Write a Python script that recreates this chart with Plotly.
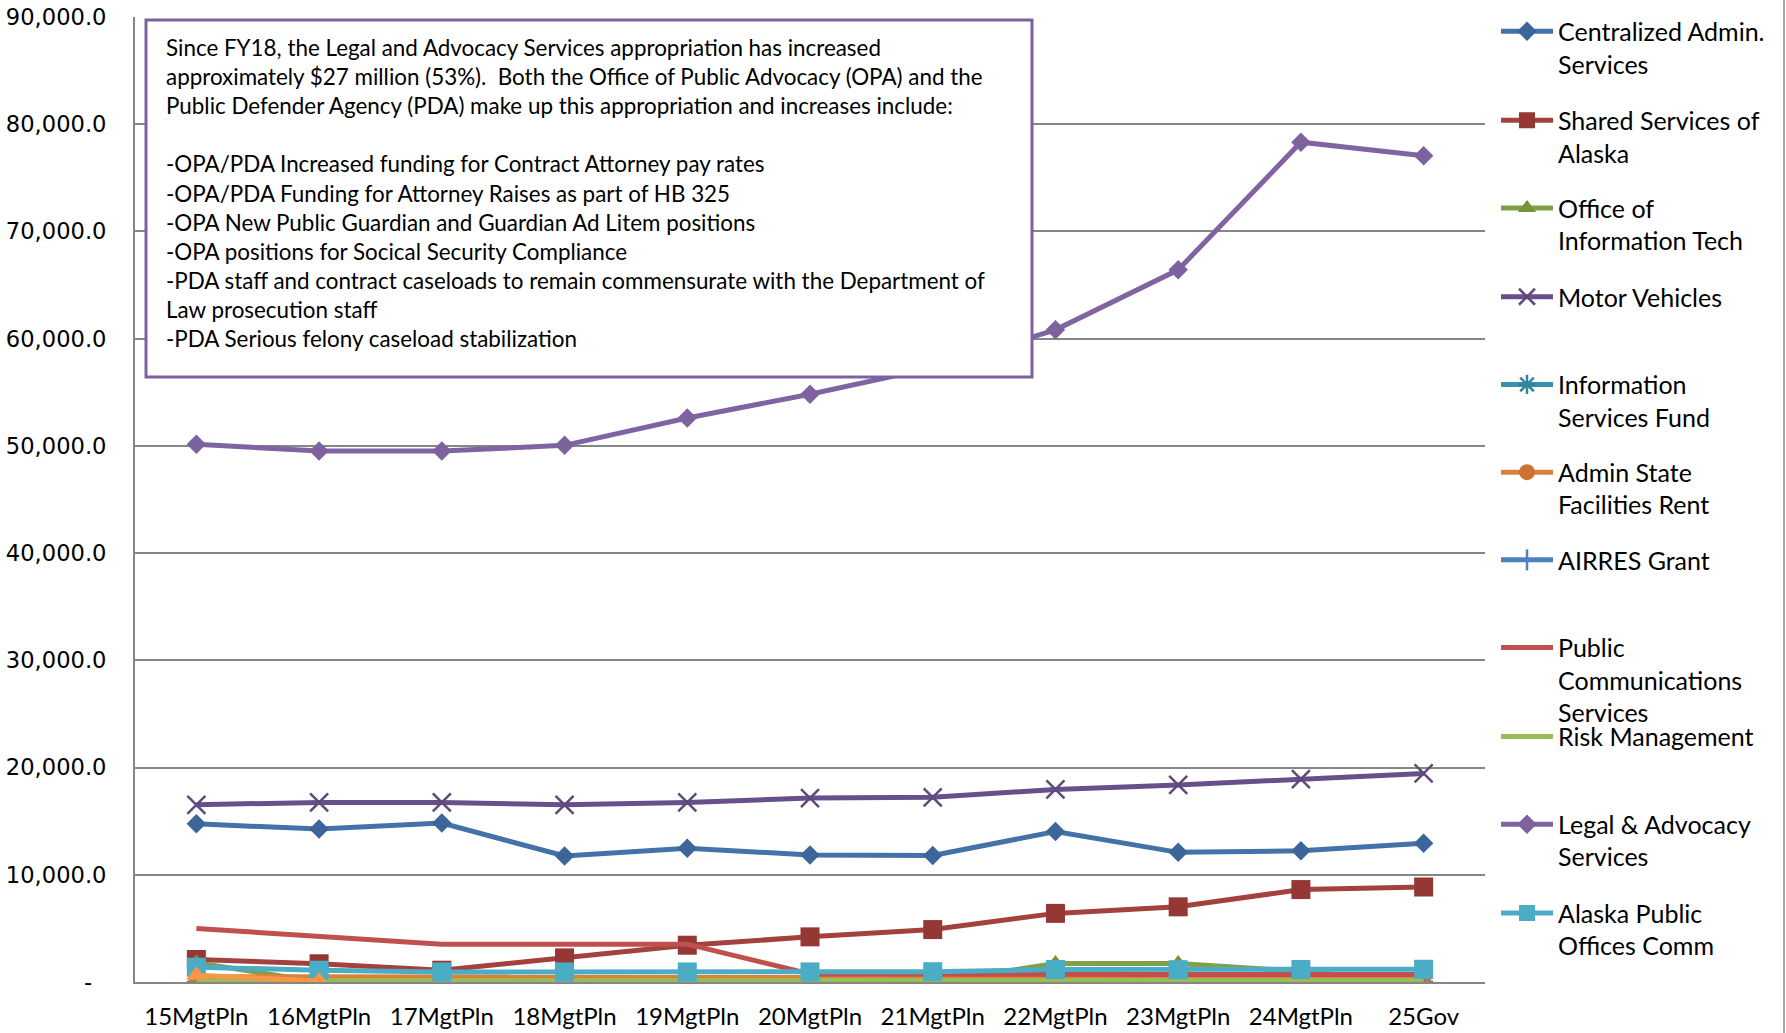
import plotly.graph_objects as go

# ---------------- data ----------------
categories = ["15MgtPln", "16MgtPln", "17MgtPln", "18MgtPln", "19MgtPln", "20MgtPln",
              "21MgtPln", "22MgtPln", "23MgtPln", "24MgtPln", "25Gov"]

centralized_admin = [14750, 14260, 14820, 11760, 12480, 11850, 11800, 14030, 12090, 12240, 12950]
shared_services = [2100, 1700, 1100, 2250, 3430, 4210, 4890, 6400, 7010, 8620, 8860]
office_info_tech = [1800, 0, 0, 0, 0, 0, 0, 1720, 1720, 1000, 0]
motor_vehicles = [16530, 16750, 16750, 16530, 16750, 17160, 17220, 17960, 18380, 18920, 19450]
info_services_fund = [0, 0, 0, 0, 0, 0, 0, 0, 0, 0, 0]
admin_facilities_rent = [480, 470, 470, 460, 460, 460, 460, 460, 460, 460, 460]
airres_grant = [0, 0, 0, 0, 0, 0, 0, 0, 0, 0, 0]
public_comm = [4990, 4210, 3530, 3530, 3530, 750, 700, 700, 710, 710, 710]
risk_mgmt = [120, 120, 120, 120, 120, 120, 120, 150, 150, 150, 150]
legal_advocacy = [50160, 49520, 49520, 50050, 52600, 54820, 57300, 60820, 66420, 78320, 77050]
apoc = [1380, 1100, 940, 940, 940, 940, 960, 1170, 1150, 1170, 1190]
unlabeled_series = [630, 100, None, None, None, None, None, None, None, None, None]

y_ticks = [0, 10000, 20000, 30000, 40000, 50000, 60000, 70000, 80000, 90000]
y_ticktext = ["-\u00a0\u00a0"] + [f"{v:,.1f}" for v in y_ticks[1:]]

note_lines = [
    "Since FY18, the Legal and Advocacy Services appropriation has increased",
    "approximately $27 million (53%).\u00a0 Both the Office of Public Advocacy (OPA) and the",
    "Public Defender Agency (PDA) make up this appropriation and increases include:",
    "\u00a0",
    "-OPA/PDA Increased funding for Contract Attorney pay rates",
    "-OPA/PDA Funding for Attorney Raises as part of HB 325",
    "-OPA New Public Guardian and Guardian Ad Litem positions",
    "-OPA positions for Socical Security Compliance",
    "-PDA staff and contract caseloads to remain commensurate with the Department of",
    "Law prosecution staff",
    "-PDA Serious felony caseload stabilization",
]

# ---------------- layout geometry (pixels) ----------------
W, H = 1786, 1033
L, R, T, B = 135, 301, 17, 51
PW, PH = W - L - R, H - T - B


def px_x(px):
    return (px - L) / PW


def px_y(py):
    return (H - B - py) / PH


LEG_FONT = "Lato, 'Open Sans', sans-serif"

series = [
    # name, values, line color, marker color, symbol, marker size, show markers
    ("Centralized Admin.<br>Services", centralized_admin, "#4272A8", "#3C659A", "diamond", 15, True),
    ("Shared Services of<br>Alaska", shared_services, "#A3413E", "#953735", "square", 19, True),
    ("Office of<br>Information Tech", office_info_tech, "#819F49", "#76923C", "triangle-up", 17, True),
    ("Motor Vehicles", motor_vehicles, "#67508A", "#5F497A", "x-thin", 18, True),
    ("Information<br>Services Fund", info_services_fund, "#3A92AB", "#31859C", "asterisk", 16, True),
    ("Admin State<br>Facilities Rent", admin_facilities_rent, "#D9823E", "#CD7232", "circle", 16, True),
    ("AIRRES Grant", airres_grant, "#4F81BD", "#4F81BD", "line-ns", 15, True),
    ("Public<br>Communications<br>Services", public_comm, "#C0504D", "#C0504D", "circle", 1, False),
    ("Risk Management", risk_mgmt, "#9BBB59", "#9BBB59", "circle", 1, False),
    ("Legal & Advocacy<br>Services", legal_advocacy, "#8064A2", "#7E62A0", "diamond", 15, True),
    ("Alaska Public<br>Offices Comm", apoc, "#4BACC6", "#4BACC6", "square", 19, True),
    ("Other", unlabeled_series, "#F79646", "#F79646", "triangle-up", 18, True),
]

# legend text first-line centres (px) from the reference
legend_centres = [29.6, 118.5, 206.2, 295.0, 382.7, 470.4, 558.1, 645.8, 734.7, 822.4, 911.2]

fig = go.Figure()
for i, (name, vals, lc, mc, sym, msz, show_m) in enumerate(series):
    open_like = sym in ("x-thin", "asterisk", "line-ns")
    marker = dict(symbol=sym, size=msz, color=mc,
                  line=dict(color=mc, width=2.5 if open_like else 0))
    fig.add_trace(go.Scatter(
        x=categories, y=vals, name=name,
        mode="lines+markers" if show_m else "lines",
        line=dict(color=lc, width=5),
        marker=marker,
        showlegend=i < 11,
        legend=("legend" if i == 0 else f"legend{i+1}") if i < 11 else "legend",
        connectgaps=False,
    ))

legend_layout = {}
for i, c in enumerate(legend_centres):
    key = "legend" if i == 0 else f"legend{i+1}"
    legend_layout[key] = dict(
        x=px_x(1496), xanchor="left",
        y=px_y(c - 21), yanchor="top",
        bgcolor="rgba(0,0,0,0)", borderwidth=0,
        font=dict(family=LEG_FONT, size=25, color="#000000"),
        itemwidth=52, valign="top", itemsizing="trace",
        tracegroupgap=0,
    )

fig.update_layout(
    width=W, height=H,
    margin=dict(l=L, r=R, t=T, b=B, autoexpand=False),
    plot_bgcolor="white", paper_bgcolor="white",
    showlegend=True,
    **legend_layout,
)

fig.update_xaxes(
    type="category", range=[-0.5, 10.5],
    showgrid=False, showline=True, linecolor="#868686", linewidth=2,
    ticks="", tickfont=dict(family=LEG_FONT, size=24, color="#000000"),
    ticklabelstandoff=12, zeroline=False, automargin=False,
)
fig.update_yaxes(
    range=[0, 90000], tickvals=y_ticks, ticktext=y_ticktext,
    showgrid=True, gridcolor="#868686", gridwidth=2,
    showline=True, linecolor="#868686", linewidth=2,
    ticks="", tickfont=dict(family="'DejaVu Sans', Verdana, sans-serif", size=22.6, color="#000000"),
    ticklabelstandoff=22, zeroline=False, automargin=False,
)

# annotation text box: white frame drawn over the lines, text on top
box_left, box_top, box_right, box_bottom = 146, 20, 1032, 377
fig.add_shape(type="rect", xref="paper", yref="paper", layer="above",
              x0=px_x(box_left), x1=px_x(box_right),
              y0=px_y(box_bottom), y1=px_y(box_top),
              fillcolor="white", line=dict(color="#7E62A0", width=3))
fig.add_annotation(
    xref="paper", yref="paper",
    x=px_x(166), y=px_y(33.5), xanchor="left", yanchor="top",
    text="<br>".join(note_lines),
    showarrow=False, align="left", valign="top",
    borderpad=0, borderwidth=0,
    font=dict(family=LEG_FONT, size=22.4, color="#000000"),
)

# chart-area right border
fig.add_shape(type="line", xref="paper", yref="paper",
              x0=px_x(1784), x1=px_x(1784), y0=px_y(H), y1=px_y(0),
              line=dict(color="#A6A6A6", width=2))

fig.write_html("out.html")
